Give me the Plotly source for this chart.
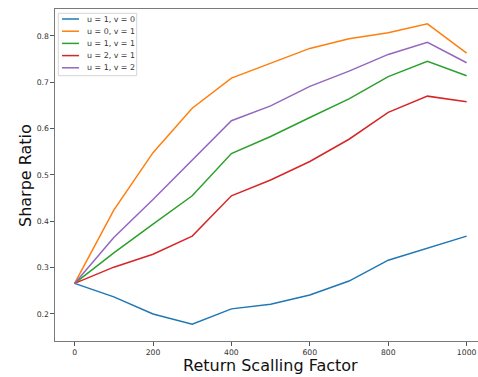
import plotly.graph_objects as go

x_vals = [0, 100, 200, 300, 400, 500, 600, 700, 800, 900, 1000]

names = ["u = 1, v = 0", "u = 0, v = 1", "u = 1, v = 1", "u = 2, v = 1", "u = 1, v = 2"]
s_u1_v0 = [0.266, 0.237, 0.200, 0.178, 0.211, 0.221, 0.241, 0.271, 0.316, 0.342, 0.368]
s_u0_v1 = [0.266, 0.424, 0.548, 0.644, 0.709, 0.741, 0.773, 0.794, 0.807, 0.826, 0.763]
s_u1_v1 = [0.266, 0.332, 0.394, 0.455, 0.546, 0.583, 0.624, 0.664, 0.712, 0.745, 0.714]
s_u2_v1 = [0.266, 0.301, 0.329, 0.368, 0.455, 0.489, 0.529, 0.577, 0.635, 0.670, 0.658]
s_u1_v2 = [0.266, 0.365, 0.447, 0.532, 0.617, 0.649, 0.691, 0.724, 0.760, 0.786, 0.742]
series = [s_u1_v0, s_u0_v1, s_u1_v1, s_u2_v1, s_u1_v2]
colors = ["#1f77b4", "#ff7f0e", "#2ca02c", "#d62728", "#9467bd"]

y_ticks = [0.2, 0.3, 0.4, 0.5, 0.6, 0.7, 0.8]
x_ticks = [0, 200, 400, 600, 800, 1000]

FONT = "DejaVu Sans"

fig = go.Figure()
for name, ys, c in zip(names, series, colors):
    fig.add_trace(go.Scatter(x=x_vals, y=ys, name=name, mode="lines",
                             line=dict(color=c, width=1.5), showlegend=False))

axis_common = dict(showgrid=False, zeroline=False, showline=True, linecolor="#7a7a7a",
                   linewidth=1.2, ticks="outside", ticklen=3.5, tickwidth=1,
                   tickcolor="#555", tickfont=dict(family=FONT, size=7.7, color="#333"))

fig.update_xaxes(range=[-50, 1029], tickvals=x_ticks, ticktext=[str(v) for v in x_ticks],
                 mirror=True, **axis_common)
fig.update_yaxes(range=[0.1417, 0.858], tickvals=y_ticks, ticktext=[f"{v:.1f}" for v in y_ticks],
                 **axis_common)

# legend (matplotlib-style box) built in paper coordinates
W, H, L, B = 423.0, 332.0, 55.0, 341.0
px = lambda p: (p - L) / W
py = lambda p: (B - p) / H
shapes = [dict(type="rect", xref="paper", yref="paper",
               x0=px(58.3), x1=px(136.7), y0=py(75.7), y1=py(13.3),
               line=dict(color="#d6d6d6", width=1), fillcolor="rgba(255,255,255,0.85)",
               layer="above")]
annotations = []
for i, (name, c) in enumerate(zip(names, colors)):
    yy = 19.0 + 12.2 * i
    shapes.append(dict(type="line", xref="paper", yref="paper",
                       x0=px(62), x1=px(79), y0=py(yy), y1=py(yy),
                       line=dict(color=c, width=1.5), layer="above"))
    annotations.append(dict(text=name, xref="paper", yref="paper", x=px(84.5), y=py(yy),
                            xanchor="left", yanchor="middle", showarrow=False,
                            font=dict(family=FONT, size=7.9, color="#333")))

annotations += [
    dict(text="Sharpe Ratio", xref="paper", yref="paper", x=px(25), y=0.5,
         textangle=-90, showarrow=False, xanchor="center", yanchor="middle",
         font=dict(family=FONT, size=16, color="#111")),
    dict(text="Return Scalling Factor", xref="paper", yref="paper", x=px(270), y=py(365),
         showarrow=False, xanchor="center", yanchor="middle",
         font=dict(family=FONT, size=16, color="#111")),
]

fig.update_layout(
    width=478, height=377,
    margin=dict(l=55, r=0, t=9, b=36),
    plot_bgcolor="white", paper_bgcolor="white",
    font=dict(family=FONT),
    showlegend=False,
    shapes=shapes,
    annotations=annotations,
)

fig.write_html("out.html")
